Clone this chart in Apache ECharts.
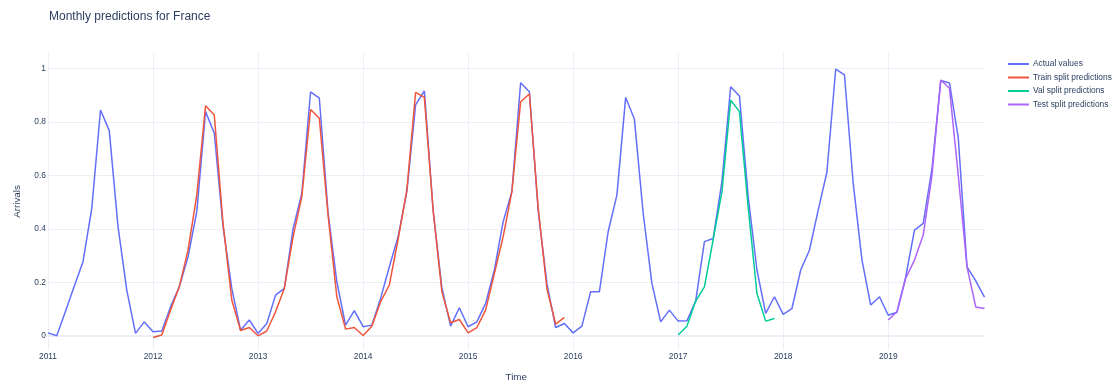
<!DOCTYPE html>
<html>
<head>
<meta charset="utf-8">
<title>Monthly predictions for France</title>
<script src="https://cdn.jsdelivr.net/npm/echarts@6/dist/echarts.min.js"></script>
<style>
  html, body { margin: 0; padding: 0; background: #ffffff; }
  #chart { width: 1116px; height: 383px; }
</style>
</head>
<body>
<div id="chart"></div>
<script>
// Monthly arrivals (normalised), January 2011 to December 2019
const startYear = 2011;
const actualValues = [
  0.011, 0.000, 0.092, 0.185, 0.277, 0.476, 0.844, 0.767, 0.408, 0.171, 0.009, 0.052, // 2011
  0.015, 0.018, 0.108, 0.183, 0.295, 0.464, 0.838, 0.757, 0.408, 0.177, 0.021, 0.059, // 2012
  0.009, 0.046, 0.152, 0.177, 0.400, 0.532, 0.912, 0.888, 0.460, 0.202, 0.040, 0.094, // 2013
  0.034, 0.040, 0.140, 0.258, 0.370, 0.539, 0.863, 0.915, 0.470, 0.180, 0.036, 0.105, // 2014
  0.034, 0.052, 0.121, 0.246, 0.426, 0.539, 0.946, 0.912, 0.470, 0.196, 0.031, 0.046, // 2015
  0.011, 0.036, 0.165, 0.165, 0.389, 0.526, 0.891, 0.810, 0.458, 0.196, 0.052, 0.096, // 2016
  0.055, 0.056, 0.130, 0.352, 0.364, 0.576, 0.931, 0.896, 0.520, 0.246, 0.084, 0.146, // 2017
  0.080, 0.102, 0.246, 0.320, 0.470, 0.613, 0.997, 0.975, 0.570, 0.283, 0.115, 0.146, // 2018
  0.077, 0.088, 0.220, 0.395, 0.420, 0.625, 0.954, 0.945, 0.740, 0.258, 0.205, 0.145  // 2019
];

// Model predictions per split, each with the month offset (from Jan 2011) where it begins
const trainStart = 12;   // Jan 2012
const trainPredictions = [
  -0.006, 0.003, 0.096, 0.183, 0.320, 0.526, 0.860, 0.825, 0.420, 0.134, 0.020, 0.031,
  0.000, 0.018, 0.090, 0.177, 0.370, 0.520, 0.846, 0.813, 0.450, 0.146, 0.025, 0.031,
  0.001, 0.036, 0.127, 0.190, 0.360, 0.545, 0.910, 0.891, 0.470, 0.165, 0.049, 0.061,
  0.011, 0.031, 0.096, 0.233, 0.370, 0.539, 0.875, 0.904, 0.480, 0.177, 0.044, 0.069
];
const valStart = 72;     // Jan 2017
const valPredictions = [
  0.003, 0.036, 0.130, 0.183, 0.360, 0.539, 0.881, 0.838, 0.480, 0.158, 0.055, 0.065
];
const testStart = 96;    // Jan 2019
const testPredictions = [
  0.059, 0.090, 0.215, 0.283, 0.377, 0.600, 0.956, 0.925, 0.600, 0.258, 0.108, 0.102
];

// Axis ticks
const yearTicks = [2011, 2012, 2013, 2014, 2015, 2016, 2017, 2018, 2019];
const arrivalTicks = [0, 0.2, 0.4, 0.6, 0.8, 1];

const seriesNames = ['Actual values', 'Train split predictions', 'Val split predictions', 'Test split predictions'];
const seriesColors = ['#636efa', '#EF553B', '#00cc96', '#ab63fa'];

// Month offset -> fractional year on the x axis
function toPoints(values, offset) {
  return values.map((v, i) => [startYear + (offset + i) / 12, v]);
}

const lastMonth = startYear + (actualValues.length - 1) / 12;
const fontFamily = '"Liberation Sans", Arial, sans-serif';
const textColor = '#2a3f5f';
const gridColor = '#ebf0f8';

const chart = echarts.init(document.getElementById('chart'), null, { renderer: 'canvas' });

function lineSeries(idx, values, offset, extra) {
  return Object.assign({
    name: seriesNames[idx],
    type: 'line',
    data: toPoints(values, offset),
    symbol: 'none',
    showSymbol: false,
    smooth: false,
    animation: false,
    color: seriesColors[idx],
    lineStyle: { width: 1.5, color: seriesColors[idx] },
    z: 3 + idx
  }, extra || {});
}

chart.setOption({
  backgroundColor: '#ffffff',
  animation: false,
  textStyle: { fontFamily: fontFamily },
  title: {
    text: 'Monthly predictions for France',
    left: 44,
    top: 6,
    textStyle: { fontFamily: fontFamily, fontSize: 12, fontWeight: 'normal', color: textColor }
  },
  legend: {
    orient: 'vertical',
    left: 1008,
    top: 59,
    icon: 'rect',
    itemWidth: 21,
    itemHeight: 2,
    itemGap: 3.5,
    padding: 0,
    data: seriesNames,
    textStyle: { fontFamily: fontFamily, fontSize: 8.4, color: textColor, lineHeight: 10, padding: [0, 0, 0, -1] }
  },
  grid: {
    left: 48,
    right: 131.5,
    top: 53,
    bottom: 33,
    containLabel: false,
    outerBoundsMode: 'none'
  },
  xAxis: {
    type: 'value',
    min: startYear,
    max: lastMonth,
    name: 'Time',
    nameLocation: 'middle',
    nameGap: 22,
    nameTextStyle: { fontFamily: fontFamily, fontSize: 9.8, color: textColor },
    axisLine: { show: false },
    axisTick: { show: false, customValues: yearTicks },
    axisLabel: {
      customValues: yearTicks,
      margin: 3,
      fontFamily: fontFamily,
      fontSize: 8.4,
      color: textColor,
      formatter: v => String(v)
    },
    splitLine: { show: true, lineStyle: { color: gridColor, width: 1 } }
  },
  yAxis: {
    type: 'value',
    min: -0.053,
    max: 1.057,
    name: 'Arrivals',
    nameLocation: 'middle',
    nameGap: 26,
    nameTextStyle: { fontFamily: fontFamily, fontSize: 9.8, color: textColor },
    axisLine: { show: false },
    axisTick: { show: false, customValues: arrivalTicks },
    axisLabel: {
      customValues: arrivalTicks,
      margin: 2,
      fontFamily: fontFamily,
      fontSize: 8.4,
      color: textColor,
      formatter: v => String(Math.round(v * 10) / 10)
    },
    splitLine: { show: true, lineStyle: { color: gridColor, width: 1 } }
  },
  series: [
    lineSeries(0, actualValues, 0, {
      markLine: {
        silent: true,
        symbol: 'none',
        label: { show: false },
        lineStyle: { color: gridColor, width: 2, type: 'solid' },
        data: [{ yAxis: 0 }],
        z: 1
      }
    }),
    lineSeries(1, trainPredictions, trainStart),
    lineSeries(2, valPredictions, valStart),
    lineSeries(3, testPredictions, testStart)
  ]
});
</script>
</body>
</html>
